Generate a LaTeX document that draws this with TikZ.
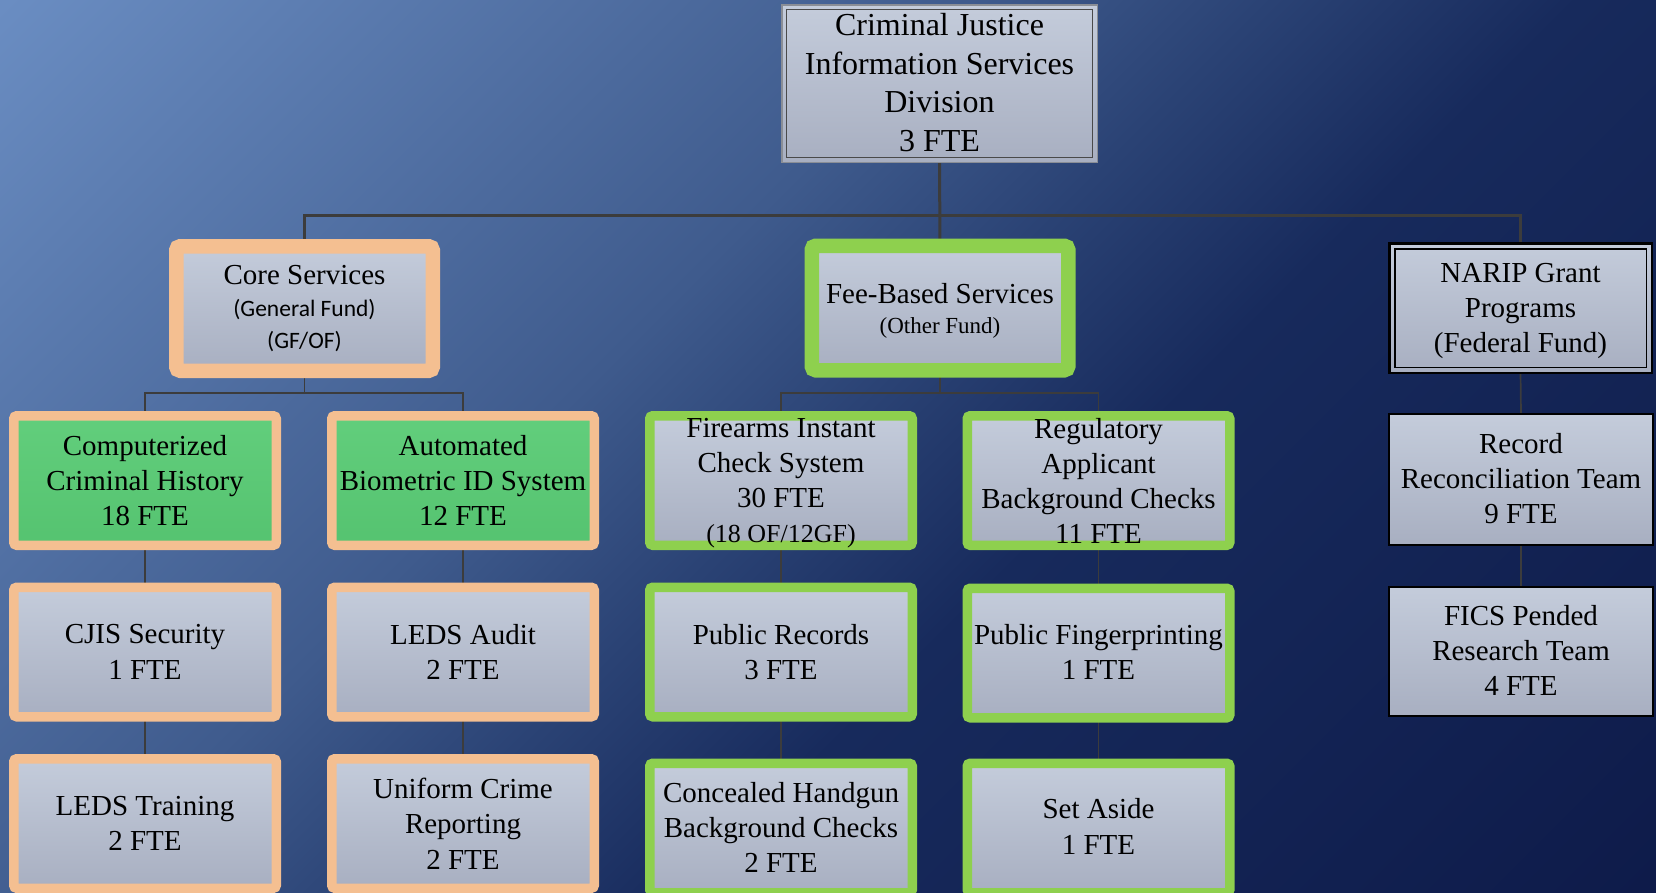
\documentclass[tikz,border=0pt]{standalone}
\usepackage{fontspec}
\setmainfont{Liberation Serif}
\newfontfamily\calfont{Carlito}
\usetikzlibrary{calc}
\definecolor{bgA}{HTML}{6A8DC2}
\definecolor{bgB}{HTML}{3F5B8D}
\definecolor{bgC}{HTML}{2A4274}
\definecolor{bgD}{HTML}{172A5C}
\definecolor{bgE}{HTML}{0E1B4A}
\definecolor{peach}{HTML}{F4BF91}
\definecolor{lgreen}{HTML}{8ED04E}
\definecolor{boxtop}{HTML}{C4CCDB}
\definecolor{boxbot}{HTML}{A8AFC1}
\definecolor{grtop}{HTML}{62CE7C}
\definecolor{grbot}{HTML}{55C370}
\definecolor{conn}{HTML}{3C3C3C}
\definecolor{topouter}{HTML}{8A8E96}
\definecolor{topinner}{HTML}{4A4A4A}
\pgfdeclarehorizontalshading{bgshade}{100bp}{color(0bp)=(bgA); color(25bp)=(bgA); color(44bp)=(bgB); color(50bp)=(bgC); color(56bp)=(bgD); color(75bp)=(bgE); color(100bp)=(bgE)}
\pgfdeclarelayer{back}
\pgfdeclarelayer{mid}
\pgfsetlayers{back,mid,main}
\begin{document}
\begin{tikzpicture}[x=1pt,y=-1pt,
  txt/.style={align=center, text=black, inner sep=0pt, font=\fontsize{29}{35.4}\selectfont},
  basebox/.style={inner sep=0pt, outer sep=0pt, top color=boxtop, bottom color=boxbot},
  pbox/.style={basebox, draw=peach, line width=9.5pt, rounded corners=3pt, minimum width=262.5pt, minimum height=129.5pt},
  gbox/.style={basebox, draw=lgreen, line width=9.5pt, rounded corners=3pt, minimum width=262.5pt, minimum height=129.5pt},
  pgbox/.style={pbox, top color=grtop, bottom color=grbot},
  hbox/.style={basebox, line width=14.5pt, rounded corners=4pt, minimum width=256.5pt, minimum height=124.5pt},
  kbox/.style={basebox, draw=black, line width=2pt, minimum width=264pt, minimum height=131pt},
  mainline/.style={draw=conn, line width=3pt},
  subline/.style={draw=conn, line width=1.7pt},
]
\useasboundingbox (0,0) rectangle (1656,892);
\begin{pgfonlayer}{back}
\begin{scope}
\clip (0,0) rectangle (1656,892);
\shade[shading=bgshade, shading angle=-45] (-73,-455) rectangle (1729,1347);
\end{scope}
\end{pgfonlayer}

% top
\node[basebox, draw=topouter, line width=1.5pt, minimum width=315.5pt, minimum height=157.5pt] (top) at (939.5,83.5) {};
\draw[topinner, line width=1.2pt] ($(top.north west)+(5,5)$) rectangle ($(top.south east)+(-5,-5)$);
\node[txt, font=\fontsize{32}{38.5}\selectfont] (top-t) at ($(top.center)+(0,-1)$) {Criminal Justice\\Information Services\\Division\\3 FTE};

% second level
\node[hbox, draw=peach] (core) at (304.5,308.5) {};
\node[txt, font=\fontsize{29}{32}\selectfont] (core-t) at (core.center) {Core Services\\{\calfont\fontsize{23.5}{32}\selectfont (General Fund)}\\{\calfont\fontsize{23.5}{32}\selectfont (GF/OF)}};
\node[hbox, draw=lgreen] (fee) at (940,308) {};
\node[txt, font=\fontsize{29}{30}\selectfont] (fee-t) at ($(fee.center)+(0,2.5)$) {Fee-Based Services\\{\fontsize{23}{30}\selectfont (Other Fund)}};
\node[basebox, draw=black, line width=2.5pt, minimum width=262.5pt, minimum height=129.5pt] (narip) at (1520.5,308) {};
\draw[black, line width=1.5pt] ($(narip.north west)+(5.5,5.5)$) rectangle ($(narip.south east)+(-5.5,-5.5)$);
\node[txt] (narip-t) at ($(narip.center)+(0,3)$) {NARIP Grant\\Programs\\(Federal Fund)};

% row 2
\node[pgbox] (cch) at (145,480.5) {};
\node[txt] (cch-t) at (cch.center) {Computerized\\Criminal History\\18 FTE};
\node[pgbox] (abis) at (463,480.5) {};
\node[txt] (abis-t) at (abis.center) {Automated\\Biometric ID System\\12 FTE};
\node[gbox] (fics) at (781,480.5) {};
\node[txt, font=\fontsize{29}{35}\selectfont] (fics-t) at ($(fics.center)+(0,2.5)$) {Firearms Instant\\Check System\\30 FTE\\{\fontsize{26}{35}\selectfont (18 OF/12GF)}};
\node[gbox] (reg) at (1098.5,480.5) {};
\node[txt, font=\fontsize{29}{35}\selectfont] (reg-t) at (reg.center) {Regulatory\\Applicant\\Background Checks\\11 FTE};
\node[kbox] (record) at (1521,479.5) {};
\node[txt] (record-t) at ($(record.center)+(0,-1)$) {Record\\Reconciliation Team\\9 FTE};

% row 3
\node[pbox] (cjis) at (145,652) {};
\node[txt] (cjis-t) at (cjis.center) {CJIS Security\\1 FTE};
\node[pbox] (leda) at (463,652) {};
\node[txt] (leda-t) at (leda.center) {LEDS Audit\\2 FTE};
\node[gbox] (pubrec) at (781,652) {};
\node[txt] (pubrec-t) at (pubrec.center) {Public Records\\3 FTE};
\node[gbox] (pubfp) at (1098.5,653) {};
\node[txt] (pubfp-t) at ($(pubfp.center)+(0,-1)$) {Public Fingerprinting\\1 FTE};
\node[kbox, minimum height=129pt] (ficsp) at (1521,651.5) {};
\node[txt] (ficsp-t) at ($(ficsp.center)+(0,-1)$) {FICS Pended\\Research Team\\4 FTE};

% row 4
\node[pbox] (ledt) at (145,823.5) {};
\node[txt] (ledt-t) at (ledt.center) {LEDS Training\\2 FTE};
\node[pbox] (ucr) at (463,823.5) {};
\node[txt] (ucr-t) at (ucr.center) {Uniform Crime\\Reporting\\2 FTE};
\node[gbox] (chl) at (781,828) {};
\node[txt, font=\fontsize{29}{35}\selectfont] (chl-t) at ($(chl.center)+(0,-1)$) {Concealed Handgun\\Background Checks\\2 FTE};
\node[gbox] (setas) at (1098.5,828) {};
\node[txt] (setas-t) at ($(setas.center)+(0,-1.5)$) {Set Aside\\1 FTE};

% connectors
\begin{pgfonlayer}{mid}
\coordinate (bar) at (0,215);
\coordinate (cbar) at (0,393);
\draw[mainline] (top.south) -- (fee.north);
\draw[mainline] (core.north) -- (core.north |- bar) -- (narip.north |- bar) -- (narip.north);
\draw[subline] (core.south) -- (core.south |- cbar);
\draw[subline] (cch.north) -- (cch.north |- cbar) -- (abis.north |- cbar) -- (abis.north);
\draw[subline] (fee.south) -- (fee.south |- cbar);
\draw[subline] (fics.north) -- (fics.north |- cbar) -- (reg.north |- cbar) -- (reg.north);
\draw[subline] (narip.south) -- (record.north);
\draw[subline] (record.south) -- (ficsp.north);
\draw[subline] (cch.south) -- (cjis.north);
\draw[subline] (cjis.south) -- (ledt.north);
\draw[subline] (abis.south) -- (leda.north);
\draw[subline] (leda.south) -- (ucr.north);
\draw[subline] (fics.south) -- (pubrec.north);
\draw[subline] (pubrec.south) -- (chl.north);
\draw[subline] (reg.south) -- (pubfp.north);
\draw[subline] (pubfp.south) -- (setas.north);
\end{pgfonlayer}
\end{tikzpicture}
\end{document}
